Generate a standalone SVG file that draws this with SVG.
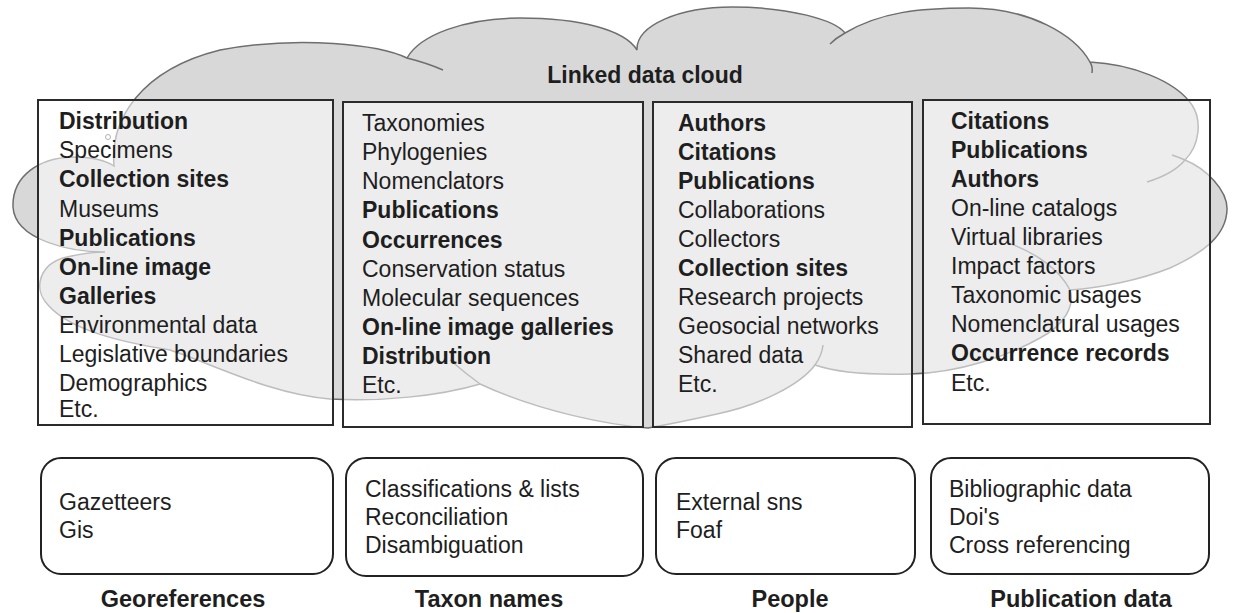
<svg xmlns="http://www.w3.org/2000/svg" width="1233" height="613" viewBox="0 0 1233 613">
<style>
text{font-family:"Liberation Sans",Arial,Helvetica,sans-serif;font-size:23px;fill:#1e1e1e}
.b{font-weight:bold}
.lbl{font-weight:bold;font-size:23.5px;text-anchor:middle}
.hook{fill:none;stroke:#6e6e6e;stroke-width:1.5}
.box{fill:#ffffff;fill-opacity:0.55;stroke:#2b2b2b;stroke-width:2}
.rbox{fill:#ffffff;stroke:#222;stroke-width:2}
</style>
<rect width="1233" height="613" fill="#ffffff"/>
<g id="cloud">
<path d="M105,252 C70,252 15,240 13,207 C12,175 40,158 72,157 C90,157 105,160 114,166
 C110,120 140,70 220,50 C300,35 380,45 407,58
 C420,35 465,18 520,18 C580,18 625,30 637,50
 C636,25 680,7 732,7 C790,7 835,20 845,33
 C880,12 920,8 969,8 C1030,8 1075,35 1090,62
 C1130,64 1175,80 1192,105 C1202,120 1200,145 1185,160
 C1205,168 1228,190 1227,210 C1226,235 1205,252 1170,268 C1140,280 1100,288 1070,290
 C1075,305 1065,325 1040,338 C1010,355 960,373 910,374 C870,375 835,372 815,365
 C800,385 760,405 717,414 C690,420 665,425 648,428
 C610,425 540,412 480,384
 C440,396 380,402 330,399 C270,394 215,365 170,350 C120,342 70,330 48,305
 C32,288 40,263 67,257 C80,254 95,252 105,252 Z" fill="#d8d8d8" stroke="#6e6e6e" stroke-width="1.5"/>
<path class="hook" d="M407,58 Q427,63 443,70"/>
<path class="hook" d="M830,44 Q836,38 845,33"/>
<path class="hook" d="M1090,62 Q1093,67 1092,73"/>
<path class="hook" d="M1185,160 C1175,172 1160,178 1147,182"/>
<path class="hook" d="M1172,155 Q1178,157 1185,160"/>
<path class="hook" d="M1008,243 C1035,252 1060,270 1070,290"/>
<path class="hook" d="M823,345 Q822,355 815,365"/>
<path class="hook" d="M480,384 Q465,373 450,360"/>
<text class="b" x="645" y="83" text-anchor="middle">Linked data cloud</text>
</g>
<g id="connectors"/>
<g id="geo-data">
<rect class="box" x="38" y="100" width="295" height="325"/>
<circle cx="108" cy="137" r="2.5" fill="none" stroke="#aab4b4" stroke-width="1"/>
<text x="59"><tspan class="b" x="59" y="129">Distribution</tspan><tspan x="59" y="158">Specimens</tspan><tspan class="b" x="59" y="187">Collection sites</tspan><tspan x="59" y="217">Museums</tspan><tspan class="b" x="59" y="246">Publications</tspan><tspan class="b" x="59" y="275">On-line image</tspan><tspan class="b" x="59" y="304">Galleries</tspan><tspan x="59" y="333">Environmental data</tspan><tspan x="59" y="362">Legislative boundaries</tspan><tspan x="59" y="391">Demographics</tspan><tspan x="59" y="417">Etc.</tspan></text>
</g>
<g id="taxon-data">
<rect class="box" x="343" y="102" width="300" height="325"/>
<text x="362"><tspan x="362" y="131">Taxonomies</tspan><tspan x="362" y="160">Phylogenies</tspan><tspan x="362" y="189">Nomenclators</tspan><tspan class="b" x="362" y="218">Publications</tspan><tspan class="b" x="362" y="248">Occurrences</tspan><tspan x="362" y="277">Conservation status</tspan><tspan x="362" y="306">Molecular sequences</tspan><tspan class="b" x="362" y="335">On-line image galleries</tspan><tspan class="b" x="362" y="364">Distribution</tspan><tspan x="362" y="393">Etc.</tspan></text>
</g>
<g id="people-data">
<rect class="box" x="653" y="102" width="259" height="325"/>
<text x="678"><tspan class="b" x="678" y="131">Authors</tspan><tspan class="b" x="678" y="160">Citations</tspan><tspan class="b" x="678" y="189">Publications</tspan><tspan x="678" y="218">Collaborations</tspan><tspan x="678" y="247">Collectors</tspan><tspan class="b" x="678" y="276">Collection sites</tspan><tspan x="678" y="305">Research projects</tspan><tspan x="678" y="334">Geosocial networks</tspan><tspan x="678" y="363">Shared data</tspan><tspan x="678" y="392">Etc.</tspan></text>
</g>
<g id="publication-data">
<rect class="box" x="923" y="100" width="287" height="324"/>
<text x="951"><tspan class="b" x="951" y="129">Citations</tspan><tspan class="b" x="951" y="158">Publications</tspan><tspan class="b" x="951" y="187">Authors</tspan><tspan x="951" y="216">On-line catalogs</tspan><tspan x="951" y="245">Virtual libraries</tspan><tspan x="951" y="274">Impact factors</tspan><tspan x="951" y="303">Taxonomic usages</tspan><tspan x="951" y="332">Nomenclatural usages</tspan><tspan class="b" x="951" y="361">Occurrence records</tspan><tspan x="951" y="391">Etc.</tspan></text>
</g>
<g id="georeferences">
<rect class="rbox" x="41" y="458" width="292" height="116" rx="20"/>
<text x="59"><tspan x="59" y="510">Gazetteers</tspan><tspan x="59" y="538">Gis</tspan></text>
<text class="lbl" x="183" y="607">Georeferences</text>
</g>
<g id="taxon-names">
<rect class="rbox" x="346" y="458" width="297" height="118" rx="20"/>
<text x="365"><tspan x="365" y="497">Classifications &amp; lists</tspan><tspan x="365" y="525">Reconciliation</tspan><tspan x="365" y="553">Disambiguation</tspan></text>
<text class="lbl" x="489" y="607">Taxon names</text>
</g>
<g id="people">
<rect class="rbox" x="656" y="458" width="259" height="116" rx="20"/>
<text x="676"><tspan x="676" y="510">External sns</tspan><tspan x="676" y="538">Foaf</tspan></text>
<text class="lbl" x="790" y="607">People</text>
</g>
<g id="publication">
<rect class="rbox" x="931" y="458" width="278" height="116" rx="20"/>
<text x="949"><tspan x="949" y="497">Bibliographic data</tspan><tspan x="949" y="525">Doi's</tspan><tspan x="949" y="553">Cross referencing</tspan></text>
<text class="lbl" x="1081" y="607">Publication data</text>
</g>
</svg>
